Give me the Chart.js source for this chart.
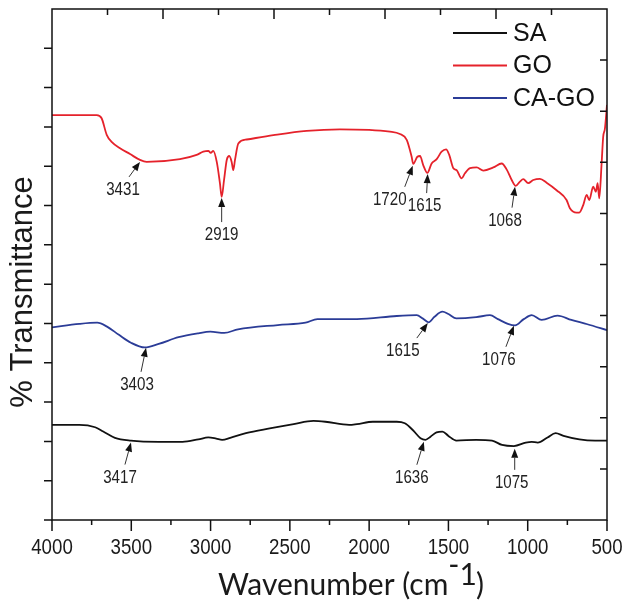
<!DOCTYPE html>
<html>
<head>
<meta charset="utf-8">
<script src="https://cdn.jsdelivr.net/npm/chart.js@4.4.1/dist/chart.umd.min.js"></script>
<style>
html, body { margin: 0; padding: 0; background: #fff; }
</style>
</head>
<body>
<canvas id="ftirChart" width="622" height="603"></canvas>
<script>
// FTIR spectra, values (curves are offset, arbitrary units)
const saWave = [4000, 3827, 3728, 3677, 3603, 3502, 3327, 3177, 3077, 3014,
    2964, 2927, 2876, 2777, 2627, 2476, 2351, 2276, 2126, 2077,
    1976, 1826, 1775, 1725, 1676, 1645, 1613, 1575, 1538, 1500,
    1450, 1325, 1225, 1162, 1087, 1012, 975, 937, 875, 824,
    774, 674, 575, 500];
const saT = [24.2, 24.2, 23.6, 22.5, 20.9, 20.2, 19.9, 19.9, 20.5, 21.0,
    20.7, 20.4, 20.9, 22.1, 23.3, 24.4, 25.2, 25.0, 24.2, 24.4,
    25.0, 25.0, 24.6, 22.9, 20.8, 20.4, 21.2, 22.3, 22.5, 21.4,
    20.2, 20.4, 20.2, 19.1, 18.8, 19.7, 19.9, 19.7, 21.0, 22.1,
    21.4, 20.5, 20.2, 20.2];

const goWave = [4000, 3718, 3687, 3655, 3624, 3571, 3508, 3445, 3403, 3193,
    3088, 3046, 3014, 2999, 2983, 2961, 2941, 2930, 2915, 2898,
    2882, 2867, 2857, 2846, 2825, 2772, 2604, 2394, 2184, 1869,
    1806, 1763, 1732, 1722, 1696, 1679, 1659, 1633, 1606, 1574,
    1543, 1515, 1495, 1469, 1448, 1417, 1396, 1364, 1322, 1280,
    1217, 1164, 1133, 1101, 1076, 1049, 1028, 997, 965, 923,
    881, 818, 755, 734, 692, 675, 650, 628, 612, 587,
    570, 559, 549, 534, 524, 513, 500];
const goT = [103.0, 103.0, 102.2, 98.0, 96.2, 94.6, 93.1, 91.6, 91.1, 91.8,
    92.9, 93.7, 93.9, 93.4, 93.9, 91.1, 85.7, 82.2, 86.5, 91.6,
    92.6, 91.1, 89.0, 91.6, 95.8, 96.8, 97.9, 99.0, 99.4, 98.8,
    98.2, 96.7, 92.4, 90.6, 92.4, 92.6, 90.3, 88.3, 90.7, 91.8,
    93.7, 94.3, 92.9, 89.5, 89.0, 86.9, 88.2, 89.5, 89.7, 88.9,
    89.7, 90.7, 89.2, 86.5, 85.0, 86.1, 86.7, 85.7, 86.5, 86.8,
    85.8, 83.9, 81.4, 79.3, 78.2, 78.2, 80.1, 82.7, 81.4, 84.8,
    83.5, 85.7, 81.8, 90.7, 97.5, 99.6, 105.6];

const cagoWave = [4000, 3827, 3715, 3653, 3578, 3502, 3415, 3327, 3202, 3077,
    3002, 2914, 2827, 2576, 2401, 2326, 2077, 1826, 1700, 1663,
    1625, 1588, 1538, 1500, 1450, 1325, 1238, 1188, 1125, 1080,
    1025, 975, 912, 812, 725, 624, 500];
const cagoT = [49.0, 49.9, 50.2, 49.2, 47.1, 45.1, 43.9, 44.8, 46.5, 47.5,
    47.9, 47.6, 48.5, 49.6, 50.2, 51.1, 51.1, 51.9, 52.1, 51.3,
    50.3, 51.7, 53.0, 52.4, 51.3, 51.6, 52.1, 51.1, 49.9, 49.5,
    51.1, 52.1, 50.9, 52.0, 50.9, 49.8, 48.3];

const xTicks = [4000, 3500, 3000, 2500, 2000, 1500, 1000, 500];
const seriesNames = ['SA', 'GO', 'CA-GO'];
const seriesColors = ['#111111', '#e5222b', '#2b3c97'];

// peak labels: where the arrow points (wavenumber, value)
const peakLabels = ['3431', '2919', '1720', '1615', '1068', '3403', '1615', '1076', '3417', '1636', '1075'];
const peakWave = [3445, 2930, 1725, 1631, 1080, 3407, 1630, 1087, 3502, 1655, 1082];
const peakT = [91.1, 81.9, 90.1, 88.0, 84.8, 43.8, 50.1, 49.4, 19.7, 19.9, 18.1];
// arrow tail offset (px) and label shift
const arrowDx = [-11, 0, -8, -1, -3, -5, -11, -8, -6, -7, 0];
const arrowDy = [15, 24, 21, 19, 21, 24, 15, 21, 22, 23, 21];
const labelDx = [-6, 0, -15, -2, -7, -4, -14, -7, -5, -5, -3];

function toPoints(xs, ys) {
    return xs.map(function (x, i) { return { x: x, y: ys[i] }; });
}

function narrowText(c, txt, x, y, font, sx, align) {
    c.save();
    c.translate(x, y);
    c.scale(sx, 1);
    c.font = font;
    c.textAlign = align || 'center';
    c.textBaseline = 'alphabetic';
    c.fillText(txt, 0, 0);
    c.restore();
}

const frameAndText = {
    id: 'frameAndText',
    afterDraw: function (chart) {
        const c = chart.ctx, a = chart.chartArea;
        const sx = chart.scales.x, sy = chart.scales.y;
        const st = chart.scales.xTop, sr = chart.scales.yRight;
        c.save();
        c.strokeStyle = '#111';
        c.lineWidth = 1.5;
        c.strokeRect(a.left, a.top, a.right - a.left, a.bottom - a.top);

        // tick marks
        c.beginPath();
        for (let v = 500; v <= 4000; v += 250) {
            const px = sx.getPixelForValue(v);
            c.moveTo(px, a.bottom);
            c.lineTo(px, a.bottom + (v % 500 === 0 ? 11 : 5));
        }
        for (let v = 0; v < 130; v += 10) {
            const py = sy.getPixelForValue(v);
            c.moveTo(a.left, py);
            c.lineTo(a.left - 8, py);
        }
        for (let v = 10; v < 100; v += 10) {
            const py = sr.getPixelForValue(v);
            c.moveTo(a.right, py);
            c.lineTo(a.right - 7, py);
        }
        for (let v = 1; v < 10; v++) {
            const px = st.getPixelForValue(v);
            c.moveTo(px, a.top);
            c.lineTo(px, a.top + (v % 2 ? 6 : 10));
        }
        c.stroke();

        // x tick labels
        c.fillStyle = '#1a1a1a';
        xTicks.forEach(function (v) {
            narrowText(c, String(v), sx.getPixelForValue(v), a.bottom + 34, '22px "Liberation Sans", Arial, sans-serif', 0.85);
        });

        // y title
        c.save();
        c.translate(32, 292);
        c.rotate(-Math.PI / 2);
        narrowText(c, '% Transmittance', 0, 0, '31px "Liberation Sans", Arial, sans-serif', 1);
        c.restore();

        // x title with superscript
        c.font = '30px Lato, "Open Sans", sans-serif';
        const main = 'Wavenumber (cm';
        const wMain = c.measureText(main).width;
        const x0 = 218;
        c.textAlign = 'left';
        c.textBaseline = 'alphabetic';
        c.fillText(main, x0, a.bottom + 75);
        c.fillText('-', x0 + wMain, a.bottom + 55);
        const wDash = c.measureText('-').width;
        c.fillText('1', x0 + wMain + wDash, a.bottom + 65);
        const w1 = c.measureText('1').width;
        c.fillText(')', x0 + wMain + wDash + w1 - 1, a.bottom + 75);

        // peak arrows
        c.strokeStyle = '#333';
        c.fillStyle = '#111';
        c.lineWidth = 1;
        peakLabels.forEach(function (lab, i) {
            const tx = sx.getPixelForValue(peakWave[i]);
            const ty = sy.getPixelForValue(peakT[i]);
            const bx = tx + arrowDx[i], by = ty + arrowDy[i];
            const len = Math.hypot(bx - tx, by - ty);
            const ux = (tx - bx) / len, uy = (ty - by) / len;
            const hx = tx - ux * 9, hy = ty - uy * 9;
            c.beginPath();
            c.moveTo(bx, by);
            c.lineTo(hx, hy);
            c.stroke();
            c.beginPath();
            c.moveTo(tx, ty);
            c.lineTo(hx - uy * 3.5, hy + ux * 3.5);
            c.lineTo(hx + uy * 3.5, hy - ux * 3.5);
            c.closePath();
            c.fill();
            c.fillStyle = '#222';
            narrowText(c, lab, bx + labelDx[i], by + 18, '18px "Liberation Sans", Arial, sans-serif', 0.84);
            c.fillStyle = '#111';
        });

        // legend
        seriesNames.forEach(function (name, i) {
            const ly = 33 + i * 32.5;
            c.strokeStyle = seriesColors[i];
            c.lineWidth = 2;
            c.beginPath();
            c.moveTo(453, ly);
            c.lineTo(507, ly);
            c.stroke();
            c.fillStyle = '#111';
            c.font = '25px "Liberation Sans", Arial, sans-serif';
            c.textAlign = 'left';
            c.textBaseline = 'middle';
            c.fillText(name, 513, ly + 1);
        });
        c.restore();
    }
};

const ctx = document.getElementById('ftirChart').getContext('2d');
const ftirChart = new Chart(ctx, {
    type: 'line',
    data: {
        datasets: [{
            label: seriesNames[0],
            data: toPoints(saWave, saT),
            borderColor: seriesColors[0],
            borderWidth: 1.8
        }, {
            label: seriesNames[1],
            data: toPoints(goWave, goT),
            borderColor: seriesColors[1],
            borderWidth: 1.8
        }, {
            label: seriesNames[2],
            data: toPoints(cagoWave, cagoT),
            borderColor: seriesColors[2],
            borderWidth: 1.8
        }]
    },
    options: {
        responsive: false,
        animation: false,
        elements: {
            point: { radius: 0 },
            line: { cubicInterpolationMode: 'monotone' }
        },
        layout: { padding: { top: 9, right: 15, left: 0, bottom: 0 } },
        plugins: {
            legend: { display: false },
            tooltip: { enabled: false }
        },
        scales: {
            x: {
                type: 'linear', reverse: true, min: 500, max: 4000, position: 'bottom',
                ticks: { display: false },
                grid: { display: false },
                border: { display: false },
                afterFit: function (s) { s.height = 83; }
            },
            y: {
                min: 0, max: 130, position: 'left',
                ticks: { display: false },
                grid: { display: false },
                border: { display: false },
                afterFit: function (s) { s.width = 52; }
            },
            xTop: { type: 'linear', min: 0, max: 10, position: 'top', display: false },
            yRight: { min: 0, max: 100, position: 'right', display: false }
        }
    },
    plugins: [frameAndText]
});
</script>
</body>
</html>
